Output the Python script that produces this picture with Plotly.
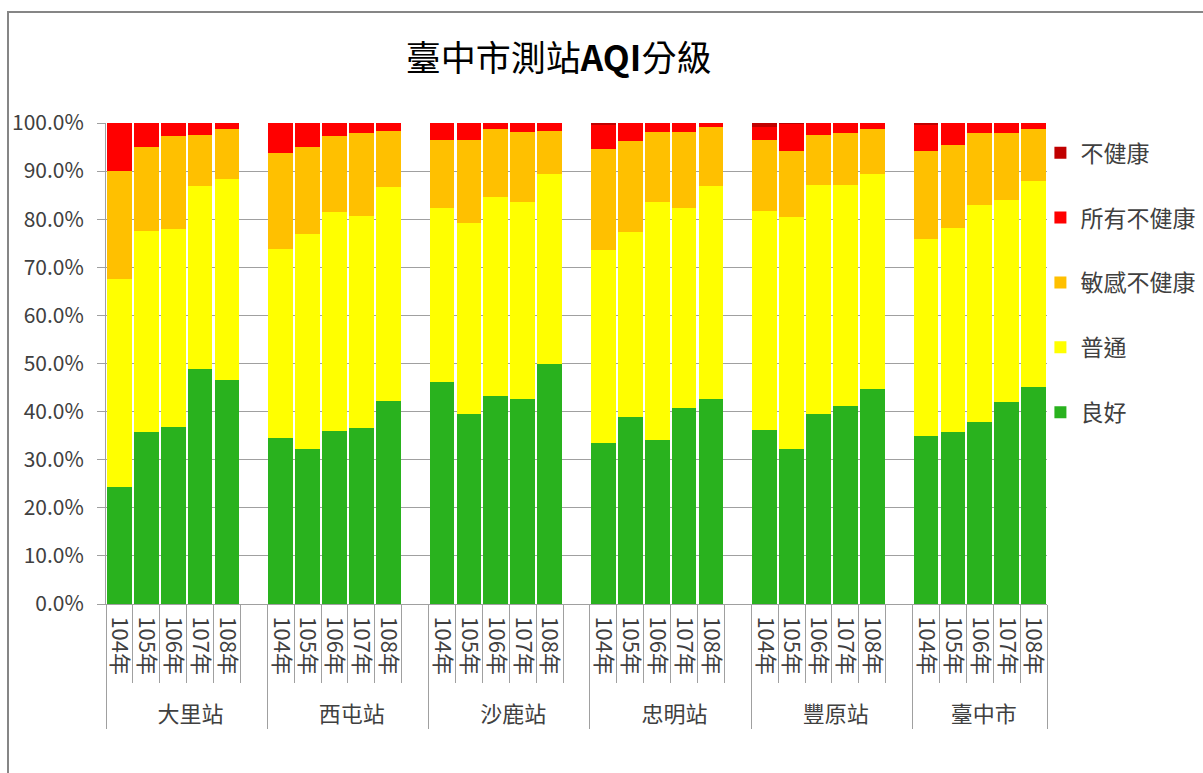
import plotly.graph_objects as go

# Stations and survey years (ROC calendar)
stations = ["大里站", "西屯站", "沙鹿站", "忠明站", "豐原站", "臺中市"]
years = ["104年", "105年", "106年", "107年", "108年"]

# Share of days in each AQI class (%), station by station, years 104-108
good = [24.4, 35.8, 36.7, 48.9, 46.6,
        34.5, 32.2, 36.0, 36.5, 42.2,
        46.2, 39.6, 43.2, 42.7, 49.8,
        33.4, 38.9, 34.0, 40.7, 42.7,
        36.2, 32.2, 39.6, 41.2, 44.6,
        35.0, 35.8, 37.9, 41.9, 45.1]
moderate = [43.1, 41.7, 41.3, 37.9, 41.8,
            39.4, 44.8, 45.6, 44.2, 44.4,
            36.1, 39.7, 41.5, 40.8, 39.7,
            40.1, 38.4, 49.5, 41.6, 44.1,
            45.6, 48.2, 47.5, 45.9, 44.9,
            40.8, 42.4, 45.1, 42.1, 42.9]
sensitive = [22.5, 17.5, 19.2, 10.8, 10.4,
             19.9, 18.0, 15.6, 17.2, 11.7,
             14.1, 17.1, 14.1, 14.6, 8.8,
             21.0, 18.9, 14.6, 15.8, 12.3,
             14.6, 13.8, 10.5, 10.8, 9.3,
             18.4, 17.3, 14.9, 13.9, 10.8]
all_unhealthy = [10.0, 5.0, 2.8, 2.4, 1.2,
                 6.2, 5.0, 2.8, 2.1, 1.7,
                 3.6, 3.6, 1.2, 1.9, 1.7,
                 5.2, 3.8, 1.9, 1.9, 0.9,
                 2.7, 5.6, 2.4, 2.1, 1.2,
                 5.5, 4.5, 2.1, 2.1, 1.2]
unhealthy = [0.0, 0.0, 0.0, 0.0, 0.0,
             0.0, 0.0, 0.0, 0.0, 0.0,
             0.0, 0.0, 0.0, 0.0, 0.0,
             0.3, 0.0, 0.0, 0.0, 0.0,
             0.9, 0.2, 0.0, 0.0, 0.0,
             0.3, 0.0, 0.0, 0.0, 0.0]

series_names = ["良好", "普通", "敏感不健康", "所有不健康", "不健康"]
series_colors = ["#29B21E", "#FFFF00", "#FFC000", "#FF0000", "#C00000"]
series_values = [good, moderate, sensitive, all_unhealthy, unhealthy]

FONT = "Noto Sans CJK TC"
GRAY = "#A0A0A0"

# Two-level category axis; every station but the last gets an empty slot
# after its five years so the groups stand apart. The trailing en space on
# the year labels leaves room above the station names.
BLANK = "\u3000"
PAD = "\u2002\u200a"
outer, inner, slot_index = [], [], []
for s_i, st in enumerate(stations):
    for y_i, yr in enumerate(years):
        outer.append(st)
        inner.append(yr + PAD)
        slot_index.append(s_i * len(years) + y_i)
    if s_i < len(stations) - 1:
        outer.append(st)
        inner.append(BLANK)
        slot_index.append(None)

fig = go.Figure()
n_series = len(series_names)
for i, (name, color, vals) in enumerate(zip(series_names, series_colors, series_values)):
    yvals = [None if k is None else vals[k] / 100 for k in slot_index]
    fig.add_trace(go.Bar(
        x=[outer, inner], y=yvals, name=name, legendgroup=name,
        legendrank=n_series - i,  # worst class listed first
        marker=dict(color=color, line=dict(width=0)),
        hovertemplate="%{x}<br>" + name + ": %{y:.1%}<extra></extra>",
    ))

fig.update_layout(
    width=1203, height=773,
    barmode="stack", bargap=0.08,
    paper_bgcolor="white", plot_bgcolor="white",
    margin=dict(l=106, r=156, t=123, b=169, autoexpand=False),
    font=dict(family=FONT, size=20, color="#404040"),
    title=dict(text="臺中市測站<b>AQI</b>分級", x=0.481, xref="paper",
               xanchor="center", y=1 - 59 / 773, yref="container",
               yanchor="middle", font=dict(family=FONT, size=35, color="#000000")),
    legend=dict(x=0.993, xanchor="left", y=0.983, yanchor="top",
                traceorder="grouped", tracegroupgap=32,
                font=dict(family=FONT, size=23, color="#404040"),
                bgcolor="rgba(0,0,0,0)"),
    showlegend=True,
)

fig.update_yaxes(
    range=[0, 1], dtick=0.1, tickformat=".1%",
    showgrid=True, gridcolor=GRAY, gridwidth=1,
    showline=True, linecolor=GRAY, linewidth=1,
    ticks="outside", ticklen=8, tickcolor=GRAY,
    ticklabelstandoff=9,
    tickfont=dict(family=FONT, size=21, color="#404040"),
    zeroline=False, fixedrange=True,
)

fig.update_xaxes(
    type="multicategory",
    showline=True, linecolor=GRAY, linewidth=1,
    ticks="outside", ticklen=78, tickcolor=GRAY, tickson="boundaries",
    ticklabelstandoff=7,
    tickangle=90,
    tickfont=dict(family=FONT, size=22, color="#404040"),
    showdividers=True, dividercolor=GRAY, dividerwidth=1,
    showgrid=False, fixedrange=True,
)

# Outer chart frame
fig.add_shape(type="rect", xref="paper", yref="paper",
              x0=-98 / 941, x1=1.2, y0=-0.4, y1=592 / 481,
              line=dict(color="#868686", width=2), layer="below")

fig.write_html("out.html")
